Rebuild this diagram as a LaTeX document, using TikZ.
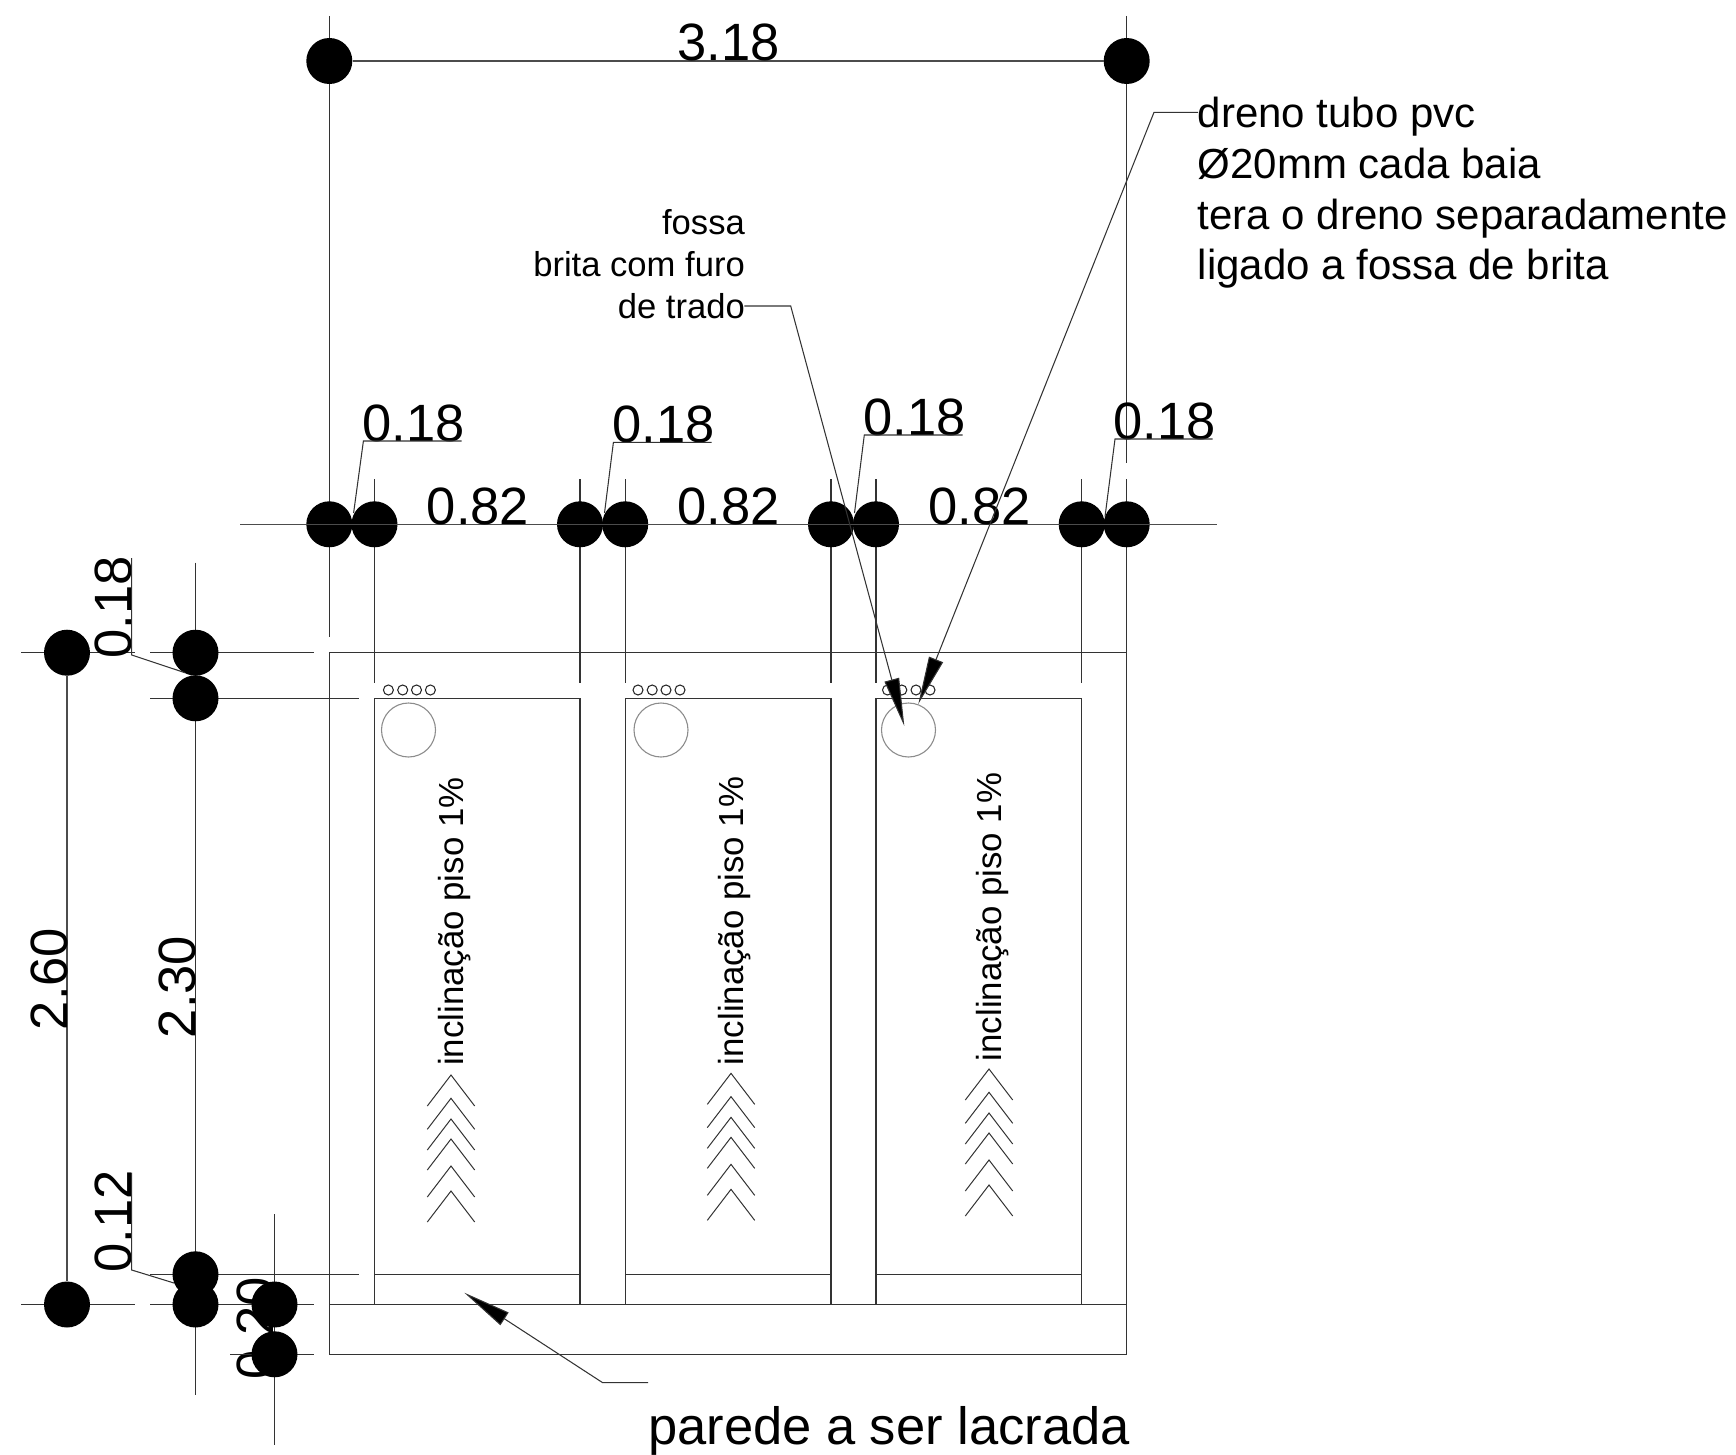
\documentclass[tikz,border=0pt]{standalone}
\usepackage{fontspec}
\setmainfont{Liberation Sans}
\usetikzlibrary{arrows.meta}
\tikzset{
  cad/.style={draw=black!80,line width=1.1pt},
  thinline/.style={draw=black!80,line width=1.05pt},
  hole/.style={draw=black!85,line width=1.05pt,circle,inner sep=0pt,minimum size=10pt},
  pit/.style={draw=black!45,line width=1.1pt,circle,inner sep=0pt,minimum size=54pt},
  dimdot/.style={circle,fill=black,draw=none,inner sep=0pt,minimum size=46pt},
  dimline/.style={draw=black!70,line width=1.1pt},
  dimtext/.style={inner sep=0pt,anchor=base,font=\fontsize{52.5}{52.5}\selectfont},
  dimvert/.style={dimtext,rotate=90},
  slope/.style={inner sep=0pt,anchor=base west,rotate=90,font=\fontsize{34.8}{34.8}\selectfont},
  pointer/.style={thinline,-{Triangle[length=48pt,width=15pt,fill=black]}},
  chevron/.style={draw=black!80,line width=1pt}
}
\begin{document}
\begin{tikzpicture}[x=1pt,y=-1pt]
\useasboundingbox (0,0) rectangle (1736,1455);
% column positions
\def\xa{329.3}\def\xb{374.5}\def\xc{580}\def\xd{625.2}\def\xe{831}\def\xf{876}\def\xg{1081.7}\def\xh{1126.7}
\def\yt{652.7}\def\yi{698.3}\def\yl{1274.3}\def\yw{1304.5}\def\yb{1354.3}

% labels lying under the dots
\node[dimvert] (t020) at (273,1328.3) {0.20};

% extension lines of the horizontal dimensions
\coordinate (exaT) at (\xa,16);   \coordinate (exaB) at (\xa,637.3);
\coordinate (exhT) at (\xh,16);   \coordinate (exhM) at (\xh,463);
\coordinate (exhN) at (\xh,479);  \coordinate (exhB) at (\xh,682.7);
\draw[cad] (exaT)--(exaB);
\draw[cad] (exhT)--(exhM);
\draw[cad] (exhN)--(exhB);
\foreach \n/\x in {b/\xb,c/\xc,d/\xd,e/\xe,f/\xf,g/\xg}{
  \coordinate (ex\n T) at (\x,479);
  \coordinate (ex\n B) at (\x,682.7);
  \draw[cad] (ex\n T)--(ex\n B);
}

% walls
\coordinate (wTL) at (\xa,\yt);\coordinate (wTR) at (\xh,\yt);
\coordinate (wBL) at (\xa,\yb);\coordinate (wBR) at (\xh,\yb);
\coordinate (wML) at (\xa,\yw);\coordinate (wMR) at (\xh,\yw);
\draw[cad] (wTR)--(wTL)--(wBL)--(wBR)--cycle;
\draw[cad] (wML)--(wMR);
% bays
\foreach \n/\l/\r in {1/\xb/\xc,2/\xd/\xe,3/\xf/\xg}{
  \coordinate (b\n a) at (\l,\yw);\coordinate (b\n b) at (\l,\yi);
  \coordinate (b\n c) at (\r,\yi);\coordinate (b\n d) at (\r,\yw);
  \coordinate (b\n e) at (\l,\yl);\coordinate (b\n f) at (\r,\yl);
  \draw[cad] (b\n a)--(b\n b)--(b\n c)--(b\n d);
  \draw[cad] (b\n e)--(b\n f);
}

% extension lines of the vertical dimensions
\coordinate (h1a) at (21,\yt);   \coordinate (h1b) at (135,\yt);
\coordinate (h2a) at (150,\yt);  \coordinate (h2b) at (314,\yt);
\coordinate (h3a) at (150,\yi);  \coordinate (h3b) at (359.3,\yi);
\coordinate (h4a) at (150,\yl);  \coordinate (h4b) at (358.5,\yl);
\coordinate (h5a) at (21,\yw);   \coordinate (h5b) at (135,\yw);
\coordinate (h6a) at (150,\yw);  \coordinate (h6b) at (314,\yw);
\coordinate (h7a) at (230,\yb);  \coordinate (h7b) at (314,\yb);
\foreach \i in {1,...,7}{\draw[cad] (h\i a)--(h\i b);}
\coordinate (v2T) at (195.5,562.7); \coordinate (v2B) at (195.5,1395);
\coordinate (v3T) at (274.5,1214);  \coordinate (v3B) at (274.5,1445);
\draw[cad] (v2T)--(v2B);
\draw[cad] (v3T)--(v3B);

% dimension dots
\node[dimdot] (T1) at (\xa,61) {};
\node[dimdot] (T2) at (\xh,61) {};
\node[dimdot] (A) at (\xa,524.3) {};
\node[dimdot] (B) at (\xb,524.3) {};
\node[dimdot] (C) at (\xc,524.3) {};
\node[dimdot] (D) at (\xd,524.3) {};
\node[dimdot] (E) at (\xe,524.3) {};
\node[dimdot] (F) at (\xf,524.3) {};
\node[dimdot] (G) at (\xg,524.3) {};
\node[dimdot] (H) at (\xh,524.3) {};
\node[dimdot] (L1) at (67,\yt) {};
\node[dimdot] (L2) at (67,\yw) {};
\node[dimdot] (M1) at (195.5,\yt) {};
\node[dimdot] (M2) at (195.5,\yi) {};
\node[dimdot] (M3) at (195.5,\yl) {};
\node[dimdot] (M4) at (195.5,\yw) {};
\node[dimdot] (R1) at (274.5,\yw) {};
\node[dimdot] (R2) at (274.5,\yb) {};

% dimension lines, stopping at the dots
\coordinate (hzL) at (240,524.3); \coordinate (hzR) at (1216.7,524.3);
\draw[dimline] (T1)--(T2);
\draw[dimline] (hzL)--(hzR);
\draw[dimline] (L1)--(L2);

% dimension texts
\node[dimtext] (t318) at (728.5,61) {3.18};
\node[dimtext] (t82a) at (478,524.3) {0.82};
\node[dimtext] (t82b) at (728.7,524.3) {0.82};
\node[dimtext] (t82c) at (979.8,524.3) {0.82};
\node[dimtext] (t18a) at (413.5,441) {0.18};
\node[dimtext] (t18b) at (663.5,442.3) {0.18};
\node[dimtext] (t18c) at (914.3,435) {0.18};
\node[dimtext] (t18d) at (1164.5,439) {0.18};
\node[dimvert] (t18e) at (131.7,607.3) {0.18};
\node[dimvert] (t12) at (131.7,1221.3) {0.12};
\node[dimvert] (t260) at (67,979) {2.60};
\node[dimvert] (t230) at (195.5,987) {2.30};

% leaders of the small dimensions
\coordinate (la1) at (363.4,441);  \coordinate (la2) at (461.6,441);  \coordinate (la3) at (353.6,513);
\coordinate (lb1) at (613.4,442.3);\coordinate (lb2) at (711.6,442.3);\coordinate (lb3) at (604.5,513);
\coordinate (lc1) at (864.3,435);  \coordinate (lc2) at (962.7,435);  \coordinate (lc3) at (854.5,513);
\coordinate (ld1) at (1115,439);   \coordinate (ld2) at (1212.7,439); \coordinate (ld3) at (1105,516.7);
\foreach \n in {a,b,c,d}{\draw[thinline] (l\n 2)--(l\n 1)--(l\n 3);}
\coordinate (le1) at (131.7,558);  \coordinate (le2) at (131.7,655);  \coordinate (le3) at (185,672.7);
\coordinate (lf1) at (131.7,1172.7);\coordinate (lf2) at (131.7,1270);\coordinate (lf3) at (174,1283);
\foreach \n in {e,f}{\draw[thinline] (l\n 1)--(l\n 2)--(l\n 3);}

% drain holes and gravel pits
\foreach \n/\x in {a/388.4,b/402.7,c/416.5,d/430.4,e/638,f/652.2,g/666,h/680,i/887.5,j/901.8,k/916,l/930}{
  \node[hole] (hole\n) at (\x,690) {};
}
\node[pit] (pit1) at (408.5,730) {};
\node[pit] (pit2) at (661,730) {};
\node[pit] (pit3) at (908.5,730) {};

% slope labels
\node[slope] (s1) at (463.3,1066) {inclinação piso 1\%};
\node[slope] (s2) at (743.3,1065.3) {inclinação piso 1\%};
\node[slope] (s3) at (1001,1061.3) {inclinação piso 1\%};

% chevrons
\foreach \cx/\dy in {451/0,731/-1.67,989/-6}{
  \foreach \ay in {1075,1098.3,1119,1139,1166,1191}{
    \draw[chevron] (\cx-23.7,\ay+\dy+31)--(\cx,\ay+\dy)--(\cx+23.7,\ay+\dy+31);
  }
}

% notes
\node[inner sep=0pt,anchor=base east,align=right,font=\fontsize{34.6}{42}\selectfont] (nfossa) at (745,318.3) {fossa\\brita com furo\\de trado};
\node[inner sep=0pt,anchor=base west,align=left,font=\fontsize{42}{50.8}\selectfont] (ndreno) at (1197.5,279.8) {dreno tubo pvc\\Ø20mm cada baia\\tera o dreno separadamente\\ligado a fossa de brita};
\node[inner sep=0pt,anchor=base,font=\fontsize{52.5}{52.5}\selectfont] (nparede) at (889,1444.3) {parede a ser lacrada};

% pointers
\coordinate (pf1) at (744.3,306); \coordinate (pf2) at (790.7,306); \coordinate (pf3) at (904.3,726);
\coordinate (pd1) at (1198,112.3);\coordinate (pd2) at (1154,112.3);\coordinate (pd3) at (918.3,704);
\coordinate (pp1) at (648,1382.7);\coordinate (pp2) at (602.7,1382.7);\coordinate (pp3) at (464.3,1292.7);
\draw[pointer] (pf1)--(pf2)--(pf3);
\draw[pointer] (pd1)--(pd2)--(pd3);
\draw[pointer] (pp1)--(pp2)--(pp3);
\end{tikzpicture}
\end{document}
